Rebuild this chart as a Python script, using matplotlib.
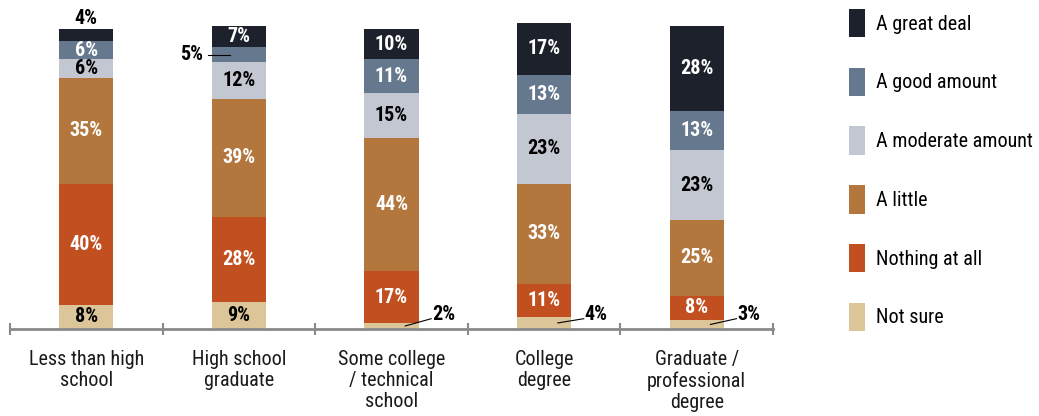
import matplotlib
matplotlib.use("Agg")
import matplotlib.pyplot as plt
from matplotlib import font_manager
from matplotlib.patches import Patch

# data
categories = ["Less than high\nschool", "High school\ngraduate", "Some college\n/ technical\nschool",
              "College\ndegree", "Graduate /\nprofessional\ndegree"]
responses = ["Not sure", "Nothing at all", "A little", "A moderate amount", "A good amount", "A great deal"]
not_sure = [8, 9, 2, 4, 3]
nothing_at_all = [40, 28, 17, 11, 8]
a_little = [35, 39, 44, 33, 25]
moderate = [6, 12, 15, 23, 23]
good_amount = [6, 5, 11, 13, 13]
great_deal = [4, 7, 10, 17, 28]

colors = ["#dbc599", "#c24f1f", "#b3773e", "#c3c7d2", "#66788e", "#1c212b"]
text_colors = ["black", "white", "white", "black", "white", "white"]

# condensed font close to the original one
names = {f.name for f in font_manager.fontManager.ttflist}
family = "DejaVu Sans"
for cand in ["Roboto Condensed", "Archivo Narrow", "Liberation Sans Narrow", "PT Sans Narrow",
             "Encode Sans Condensed", "Open Sans Condensed"]:
    if cand in names:
        family = cand
        break
plt.rcParams["font.family"] = [family, "DejaVu Sans"]

fig = plt.figure(figsize=(10.39, 4.16), dpi=100)
ax = fig.add_axes([10 / 1039, (416 - 329) / 416, 763 / 1039, 318 / 416])

series = [not_sure, nothing_at_all, a_little, moderate, good_amount, great_deal]
x = list(range(len(categories)))
bottom = [0] * len(categories)
width = 0.355
fs = 14.5
for s, vals in enumerate(series):
    ax.bar(x, vals, width, bottom=bottom, color=colors[s], linewidth=0, zorder=2)
    for i, v in enumerate(vals):
        mid = bottom[i] + v / 2
        lbl = f"{v}%"
        if s == 0 and v < 5:
            # small "not sure" values: label to the right with a leader line
            ax.plot([i + 0.09, i + 0.26], [v / 2, 3.4], color="black", lw=0.8, zorder=3)
            ax.text(i + 0.265, 4.9, lbl, ha="left", va="center", fontsize=fs,
                    fontweight="bold", color="black")
        elif s == 5 and v < 5:
            ax.text(i, bottom[i] + v + 0.4, lbl, ha="center", va="bottom", fontsize=fs,
                    fontweight="bold", color="black")
        elif s == 4 and v < 6:
            ax.plot([i - 0.205, i - 0.06], [mid, mid], color="black", lw=0.8, zorder=3)
            ax.text(i - 0.31, mid, lbl, ha="center", va="center", fontsize=fs,
                    fontweight="bold", color="black")
        else:
            ax.text(i, mid, lbl, ha="center", va="center", fontsize=fs,
                    fontweight="bold", color=text_colors[s])
        bottom[i] += v

ax.set_xlim(-0.5, len(categories) - 0.5)
ax.set_ylim(0, 105)
for sp in ["top", "right", "left"]:
    ax.spines[sp].set_visible(False)
ax.spines["bottom"].set_color("#8a8a8a")
ax.spines["bottom"].set_linewidth(2)
ax.set_yticks([])
ax.set_xticks([k - 0.5 for k in range(len(categories) + 1)])
ax.set_xticklabels([])
ax.tick_params(axis="x", which="major", direction="inout", length=9, width=1.5, color="#8a8a8a")
ax.set_xticks(x, minor=True)
ax.set_xticklabels(categories, minor=True, fontsize=fs, color="#1a1a1a", linespacing=1.15, va="top")
ax.tick_params(axis="x", which="minor", length=0, pad=15)

handles = [Patch(facecolor=colors[s], linewidth=0) for s in range(5, -1, -1)]
labels = [responses[s] for s in range(5, -1, -1)]
fig.legend(handles, labels, loc="upper left", bbox_to_anchor=(849 / 1039, 1 - 9 / 416),
           frameon=False, fontsize=fs, handlelength=0.8, handleheight=1.8,
           labelspacing=1.5, handletextpad=0.55, borderpad=0, borderaxespad=0)

fig.savefig("out.png", dpi=100)
